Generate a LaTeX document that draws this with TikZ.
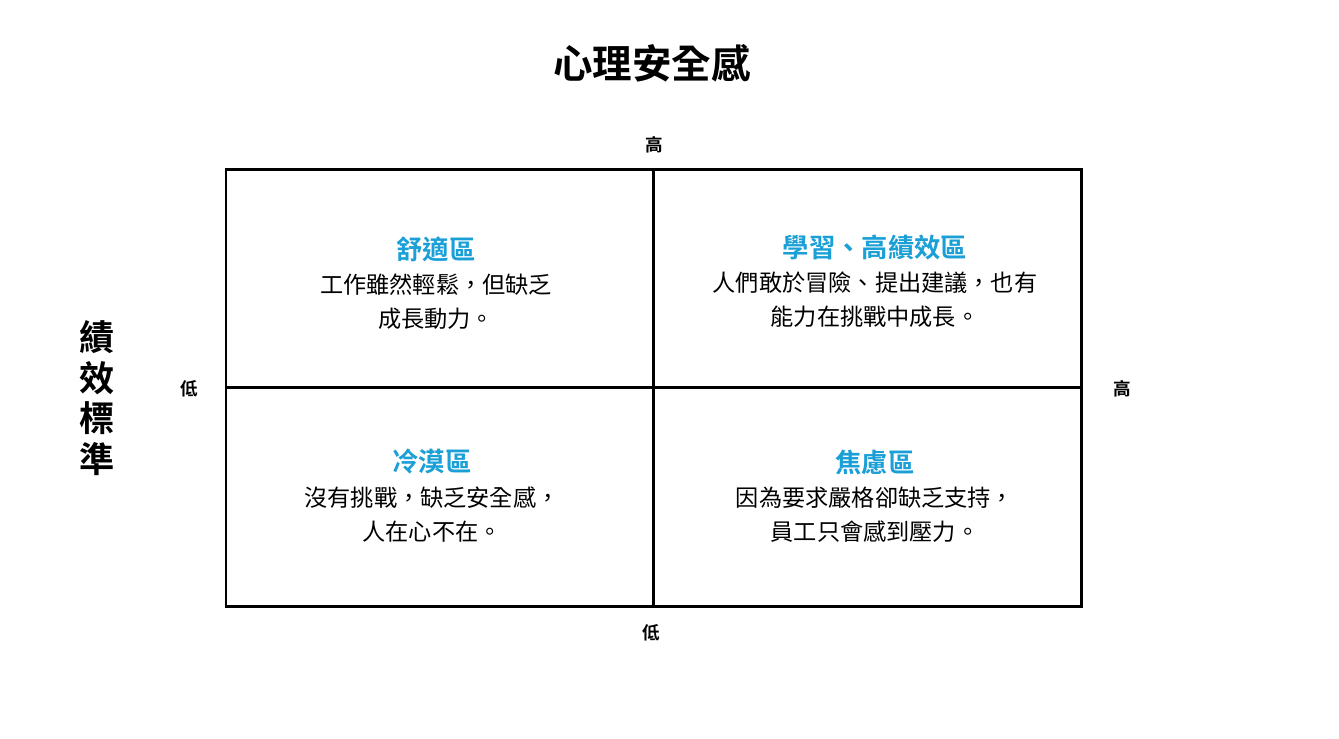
\documentclass[tikz,border=0pt]{standalone}
\usepackage{fontspec}
\setmainfont{Noto Sans CJK TC}[BoldFont={Noto Sans CJK TC Bold}]
\usetikzlibrary{positioning}
\definecolor{headblue}{HTML}{1A9FD6}

\begin{document}
\begin{tikzpicture}[
    x=0.02cm, y=-0.02cm,
    zone/.style={font=\fontsize{15}{17}\selectfont\bfseries, text=headblue},
    desc/.style={font=\fontsize{13.2}{19.3}\selectfont, align=center},
    axislabel/.style={font=\fontsize{10}{12}\selectfont\bfseries},
    title/.style={font=\fontsize{22.5}{26}\selectfont\bfseries}
]
\useasboundingbox (0,0) rectangle (1339,738);

% Title
\node[title] (title) at (652,63) {心理安全感};

% Grid
\node[draw, line width=1.7pt, minimum width=855*0.02cm, minimum height=437*0.02cm, inner sep=0pt] (grid) at (653.5,387.5) {};
\draw[line width=1.7pt] (grid.north) -- (grid.south);
\draw[line width=1.7pt] (grid.west) -- (grid.east);

% Axis labels
\node[axislabel] (top) at (654,145) {高};
\node[axislabel] (bottom) at (651,633) {低};
\node[axislabel] (left) at (189,389) {低};
\node[axislabel] (right) at (1122,389) {高};
\node[align=center, font=\fontsize{20}{23}\selectfont\bfseries] (side) at (97,398) {績\\效\\標\\準};

% Top left
\node[zone] (comfort) at (436,249) {舒適區};
\node[desc, below=0pt of comfort] (comforttext) {工作雖然輕鬆，但缺乏\\成長動力。};

% Top right
\node[zone] (learning) at (875,247) {學習、高績效區};
\node[desc, below=0pt of learning] (learningtext) {人們敢於冒險、提出建議，也有\\能力在挑戰中成長。};

% Bottom left
\node[zone] (apathy) at (432,462) {冷漠區};
\node[desc, below=0pt of apathy] (apathytext) {沒有挑戰，缺乏安全感，\\人在心不在。};

% Bottom right
\node[zone] (anxiety) at (875,462) {焦慮區};
\node[desc, below=0pt of anxiety] (anxietytext) {因為要求嚴格卻缺乏支持，\\員工只會感到壓力。};

\end{tikzpicture}
\end{document}
